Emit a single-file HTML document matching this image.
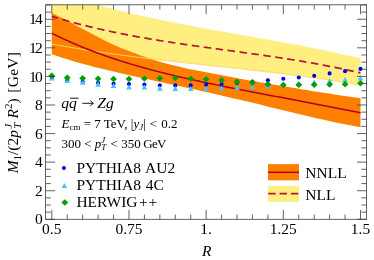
<!DOCTYPE html>
<html><head><meta charset="utf-8"><style>
html,body{margin:0;padding:0;background:#fff;}
svg{display:block;will-change:transform;font-family:"Liberation Serif",serif;}
</style></head><body>
<svg width="374" height="260" viewBox="0 0 374 260">
<defs><clipPath id="c"><rect x="45.6" y="4.8" width="321.0" height="214.5"/></clipPath></defs>
<rect width="374" height="260" fill="#fff"/>
<g clip-path="url(#c)">
<polygon points="51.80,-9.29 57.03,-7.49 62.26,-5.74 67.50,-4.03 72.73,-2.37 77.96,-0.76 83.19,0.81 88.43,2.34 93.66,3.83 98.89,5.28 104.12,6.69 109.35,8.06 114.59,9.40 119.82,10.71 125.05,11.98 130.28,13.23 135.52,14.44 140.75,15.63 145.98,16.79 151.21,17.92 156.44,19.03 161.68,20.12 166.91,21.19 172.14,22.24 177.37,23.27 182.61,24.28 187.84,25.28 193.07,26.26 198.30,27.23 203.53,28.19 208.77,29.14 214.00,30.08 219.23,31.01 224.46,31.94 229.69,32.86 234.93,33.78 240.16,34.70 245.39,35.62 250.62,36.54 255.86,37.46 261.09,38.39 266.32,39.32 271.55,40.26 276.78,41.20 282.02,42.16 287.25,43.13 292.48,44.11 297.71,45.10 302.95,46.11 308.18,47.13 313.41,48.17 318.64,49.24 323.87,50.32 329.11,51.42 334.34,52.55 339.57,53.70 344.80,54.88 350.04,56.09 355.27,57.32 360.50,58.59 360.50,85.10 355.27,84.19 350.04,83.31 344.80,82.45 339.57,81.62 334.34,80.80 329.11,80.00 323.87,79.23 318.64,78.47 313.41,77.73 308.18,77.01 302.95,76.31 297.71,75.62 292.48,74.94 287.25,74.28 282.02,73.63 276.78,72.99 271.55,72.36 266.32,71.74 261.09,71.13 255.86,70.53 250.62,69.94 245.39,69.35 240.16,68.77 234.93,68.19 229.69,67.62 224.46,67.04 219.23,66.48 214.00,65.91 208.77,65.34 203.53,64.77 198.30,64.20 193.07,63.63 187.84,63.05 182.61,62.47 177.37,61.89 172.14,61.30 166.91,60.70 161.68,60.09 156.44,59.48 151.21,58.85 145.98,58.22 140.75,57.57 135.52,56.91 130.28,56.24 125.05,55.56 119.82,54.86 114.59,54.14 109.35,53.41 104.12,52.66 98.89,51.89 93.66,51.11 88.43,50.30 83.19,49.47 77.96,48.62 72.73,47.75 67.50,46.85 62.26,45.93 57.03,44.98 51.80,44.01" fill="#ffee80"/>
<polygon points="51.80,13.10 57.03,15.52 62.26,18.10 67.50,20.81 72.73,23.59 77.96,26.41 83.19,29.24 88.43,32.03 93.66,34.79 98.89,37.51 104.12,40.16 109.35,42.73 114.59,45.15 119.82,47.41 125.05,49.56 130.28,51.62 135.52,53.62 140.75,55.54 145.98,57.36 151.21,59.07 156.44,60.68 161.68,62.21 166.91,63.67 172.14,65.04 177.37,66.33 182.61,67.53 187.84,68.66 193.07,69.73 198.30,70.75 203.53,71.76 208.77,72.76 214.00,73.77 219.23,74.79 224.46,75.83 229.69,76.86 234.93,77.86 240.16,78.83 245.39,79.76 250.62,80.66 255.86,81.54 261.09,82.42 266.32,83.28 271.55,84.15 276.78,85.03 282.02,85.90 287.25,86.77 292.48,87.64 297.71,88.51 302.95,89.39 308.18,90.27 313.41,91.13 318.64,91.98 323.87,92.81 329.11,93.61 334.34,94.40 339.57,95.17 344.80,95.94 350.04,96.71 355.27,97.48 360.50,98.26 360.50,127.32 355.27,126.36 350.04,125.36 344.80,124.32 339.57,123.24 334.34,122.13 329.11,120.99 323.87,119.82 318.64,118.63 313.41,117.42 308.18,116.20 302.95,114.96 297.71,113.71 292.48,112.46 287.25,111.20 282.02,109.93 276.78,108.66 271.55,107.39 266.32,106.13 261.09,104.86 255.86,103.60 250.62,102.35 245.39,101.10 240.16,99.86 234.93,98.63 229.69,97.41 224.46,96.20 219.23,94.99 214.00,93.80 208.77,92.62 203.53,91.44 198.30,90.27 193.07,89.11 187.84,87.96 182.61,86.82 177.37,85.68 172.14,84.54 166.91,83.41 161.68,82.28 156.44,81.14 151.21,80.01 145.98,78.87 140.75,77.72 135.52,76.57 130.28,75.40 125.05,74.22 119.82,73.02 114.59,71.80 109.35,70.56 104.12,69.30 98.89,68.00 93.66,66.67 88.43,65.30 83.19,63.89 77.96,62.43 72.73,60.93 67.50,59.37 62.26,57.75 57.03,56.07 51.80,54.32" fill="#ff8000"/>
<polyline points="51.80,44.01 53.09,44.25 54.37,44.49 55.66,44.73 56.95,44.96 58.23,45.20 59.52,45.43 60.80,45.67 62.09,45.90 63.38,46.13 64.66,46.35 65.95,46.58 67.24,46.80 68.52,47.03 69.81,47.25 71.09,47.47 72.38,47.69 73.67,47.90 74.95,48.12 76.24,48.33 77.53,48.55 78.81,48.76 80.10,48.97 81.38,49.18 82.67,49.39 83.96,49.59 85.24,49.80 86.53,50.00 87.81,50.20 89.10,50.40 90.39,50.60 91.67,50.80 92.96,51.00 94.25,51.19 95.53,51.39 96.82,51.58 98.11,51.78 99.39,51.97 100.68,52.16 101.96,52.35 103.25,52.53 104.54,52.72 105.82,52.91 107.11,53.09 108.40,53.27 109.68,53.46 110.97,53.64 112.25,53.82 113.54,54.00 114.83,54.18 116.11,54.35 117.40,54.53 118.69,54.70 119.97,54.88 121.26,55.05 122.54,55.23 123.83,55.40 125.12,55.57 126.40,55.74 127.69,55.91 128.97,56.07 130.26,56.24 131.55,56.41 132.83,56.57 134.12,56.74 135.41,56.90 136.69,57.06 137.98,57.23 139.26,57.39 140.55,57.55 141.84,57.71 143.12,57.87 144.41,58.03 145.70,58.18 146.98,58.34 148.27,58.50 149.56,58.65 150.84,58.81 152.13,58.96 153.41,59.12 154.70,59.27 155.99,59.42 157.27,59.58 158.56,59.73 159.84,59.88 161.13,60.03 162.42,60.18 163.70,60.33 164.99,60.48 166.28,60.63 167.56,60.77 168.85,60.92 170.13,61.07 171.42,61.21 172.71,61.36 173.99,61.51 175.28,61.65 176.57,61.80 177.85,61.94 179.14,62.09 180.43,62.23 181.71,62.37 183.00,62.52 184.28,62.66 185.57,62.80 186.86,62.94 188.14,63.09 189.43,63.23 190.71,63.37 192.00,63.51 193.29,63.65 194.57,63.79 195.86,63.93 197.15,64.08 198.43,64.22 199.72,64.36 201.00,64.50 202.29,64.64 203.58,64.78 204.86,64.92 206.15,65.06 207.44,65.20 208.72,65.34 210.01,65.47 211.29,65.61 212.58,65.75 213.87,65.89 215.15,66.03 216.44,66.17 217.73,66.31 219.01,66.45 220.30,66.59 221.58,66.73 222.87,66.87 224.16,67.01 225.44,67.15 226.73,67.29 228.02,67.43 229.30,67.57 230.59,67.71 231.88,67.85 233.16,68.00 234.45,68.14 235.73,68.28 237.02,68.42 238.31,68.56 239.59,68.70 240.88,68.85 242.17,68.99 243.45,69.13 244.74,69.28 246.02,69.42 247.31,69.56 248.60,69.71 249.88,69.85 251.17,70.00 252.45,70.14 253.74,70.29 255.03,70.44 256.31,70.58 257.60,70.73 258.89,70.88 260.17,71.03 261.46,71.17 262.75,71.32 264.03,71.47 265.32,71.62 266.60,71.77 267.89,71.92 269.18,72.08 270.46,72.23 271.75,72.38 273.04,72.54 274.32,72.69 275.61,72.84 276.89,73.00 278.18,73.16 279.47,73.31 280.75,73.47 282.04,73.63 283.32,73.79 284.61,73.95 285.90,74.11 287.18,74.27 288.47,74.43 289.76,74.59 291.04,74.76 292.33,74.92 293.61,75.08 294.90,75.25 296.19,75.42 297.47,75.58 298.76,75.75 300.05,75.92 301.33,76.09 302.62,76.26 303.90,76.43 305.19,76.61 306.48,76.78 307.76,76.96 309.05,77.13 310.34,77.31 311.62,77.49 312.91,77.66 314.20,77.84 315.48,78.02 316.77,78.21 318.05,78.39 319.34,78.57 320.63,78.76 321.91,78.94 323.20,79.13 324.49,79.32 325.77,79.51 327.06,79.70 328.34,79.89 329.63,80.08 330.92,80.28 332.20,80.47 333.49,80.67 334.77,80.87 336.06,81.07 337.35,81.27 338.63,81.47 339.92,81.67 341.21,81.87 342.49,82.08 343.78,82.29 345.06,82.49 346.35,82.70 347.64,82.91 348.92,83.13 350.21,83.34 351.50,83.55 352.78,83.77 354.07,83.99 355.36,84.21 356.64,84.43 357.93,84.65 359.21,84.87 360.50,85.10" fill="none" stroke="#ffd860" stroke-width="1"/>
<polyline points="51.80,33.24 53.09,33.89 54.37,34.53 55.66,35.16 56.95,35.78 58.23,36.41 59.52,37.02 60.80,37.63 62.09,38.24 63.38,38.84 64.66,39.43 65.95,40.02 67.24,40.60 68.52,41.18 69.81,41.75 71.09,42.32 72.38,42.89 73.67,43.45 74.95,44.00 76.24,44.55 77.53,45.09 78.81,45.63 80.10,46.17 81.38,46.70 82.67,47.22 83.96,47.74 85.24,48.26 86.53,48.77 87.81,49.28 89.10,49.78 90.39,50.28 91.67,50.78 92.96,51.27 94.25,51.76 95.53,52.24 96.82,52.72 98.11,53.19 99.39,53.66 100.68,54.13 101.96,54.59 103.25,55.05 104.54,55.50 105.82,55.96 107.11,56.40 108.40,56.85 109.68,57.29 110.97,57.72 112.25,58.16 113.54,58.59 114.83,59.01 116.11,59.43 117.40,59.85 118.69,60.27 119.97,60.68 121.26,61.09 122.54,61.50 123.83,61.90 125.12,62.30 126.40,62.70 127.69,63.09 128.97,63.48 130.26,63.87 131.55,64.25 132.83,64.63 134.12,65.01 135.41,65.39 136.69,65.76 137.98,66.13 139.26,66.50 140.55,66.87 141.84,67.23 143.12,67.59 144.41,67.94 145.70,68.30 146.98,68.65 148.27,69.00 149.56,69.35 150.84,69.69 152.13,70.04 153.41,70.38 154.70,70.71 155.99,71.05 157.27,71.38 158.56,71.71 159.84,72.04 161.13,72.37 162.42,72.69 163.70,73.02 164.99,73.34 166.28,73.66 167.56,73.97 168.85,74.29 170.13,74.60 171.42,74.91 172.71,75.22 173.99,75.53 175.28,75.84 176.57,76.14 177.85,76.44 179.14,76.74 180.43,77.04 181.71,77.34 183.00,77.63 184.28,77.93 185.57,78.22 186.86,78.51 188.14,78.80 189.43,79.09 190.71,79.38 192.00,79.66 193.29,79.95 194.57,80.23 195.86,80.51 197.15,80.79 198.43,81.07 199.72,81.35 201.00,81.62 202.29,81.90 203.58,82.17 204.86,82.45 206.15,82.72 207.44,82.99 208.72,83.26 210.01,83.53 211.29,83.79 212.58,84.06 213.87,84.33 215.15,84.59 216.44,84.86 217.73,85.12 219.01,85.38 220.30,85.64 221.58,85.90 222.87,86.16 224.16,86.42 225.44,86.68 226.73,86.94 228.02,87.19 229.30,87.45 230.59,87.71 231.88,87.96 233.16,88.21 234.45,88.47 235.73,88.72 237.02,88.97 238.31,89.23 239.59,89.48 240.88,89.73 242.17,89.98 243.45,90.23 244.74,90.48 246.02,90.73 247.31,90.98 248.60,91.22 249.88,91.47 251.17,91.72 252.45,91.97 253.74,92.21 255.03,92.46 256.31,92.71 257.60,92.95 258.89,93.20 260.17,93.44 261.46,93.69 262.75,93.93 264.03,94.18 265.32,94.42 266.60,94.67 267.89,94.91 269.18,95.16 270.46,95.40 271.75,95.65 273.04,95.89 274.32,96.13 275.61,96.38 276.89,96.62 278.18,96.86 279.47,97.11 280.75,97.35 282.04,97.60 283.32,97.84 284.61,98.08 285.90,98.33 287.18,98.57 288.47,98.81 289.76,99.06 291.04,99.30 292.33,99.55 293.61,99.79 294.90,100.03 296.19,100.28 297.47,100.52 298.76,100.77 300.05,101.01 301.33,101.26 302.62,101.50 303.90,101.75 305.19,101.99 306.48,102.24 307.76,102.48 309.05,102.73 310.34,102.97 311.62,103.22 312.91,103.47 314.20,103.71 315.48,103.96 316.77,104.21 318.05,104.45 319.34,104.70 320.63,104.95 321.91,105.20 323.20,105.44 324.49,105.69 325.77,105.94 327.06,106.19 328.34,106.44 329.63,106.69 330.92,106.94 332.20,107.19 333.49,107.44 334.77,107.69 336.06,107.94 337.35,108.19 338.63,108.44 339.92,108.69 341.21,108.94 342.49,109.20 343.78,109.45 345.06,109.70 346.35,109.95 347.64,110.21 348.92,110.46 350.21,110.72 351.50,110.97 352.78,111.22 354.07,111.48 355.36,111.73 356.64,111.99 357.93,112.24 359.21,112.50 360.50,112.76" fill="none" stroke="#b00020" stroke-width="1.5"/>
<polyline points="51.80,16.36 53.09,16.76 54.37,17.15 55.66,17.54 56.95,17.92 58.23,18.30 59.52,18.68 60.80,19.06 62.09,19.43 63.38,19.80 64.66,20.17 65.95,20.53 67.24,20.89 68.52,21.25 69.81,21.60 71.09,21.95 72.38,22.30 73.67,22.65 74.95,22.99 76.24,23.33 77.53,23.67 78.81,24.00 80.10,24.33 81.38,24.66 82.67,24.99 83.96,25.31 85.24,25.64 86.53,25.95 87.81,26.27 89.10,26.58 90.39,26.89 91.67,27.20 92.96,27.51 94.25,27.81 95.53,28.11 96.82,28.41 98.11,28.71 99.39,29.00 100.68,29.29 101.96,29.58 103.25,29.87 104.54,30.15 105.82,30.43 107.11,30.71 108.40,30.99 109.68,31.27 110.97,31.54 112.25,31.81 113.54,32.08 114.83,32.35 116.11,32.61 117.40,32.88 118.69,33.14 119.97,33.40 121.26,33.65 122.54,33.91 123.83,34.16 125.12,34.41 126.40,34.66 127.69,34.91 128.97,35.15 130.26,35.40 131.55,35.64 132.83,35.88 134.12,36.12 135.41,36.35 136.69,36.59 137.98,36.82 139.26,37.05 140.55,37.28 141.84,37.51 143.12,37.74 144.41,37.96 145.70,38.19 146.98,38.41 148.27,38.63 149.56,38.85 150.84,39.07 152.13,39.29 153.41,39.50 154.70,39.71 155.99,39.93 157.27,40.14 158.56,40.35 159.84,40.56 161.13,40.76 162.42,40.97 163.70,41.17 164.99,41.38 166.28,41.58 167.56,41.78 168.85,41.98 170.13,42.18 171.42,42.38 172.71,42.58 173.99,42.77 175.28,42.97 176.57,43.16 177.85,43.36 179.14,43.55 180.43,43.74 181.71,43.93 183.00,44.12 184.28,44.31 185.57,44.50 186.86,44.69 188.14,44.87 189.43,45.06 190.71,45.24 192.00,45.43 193.29,45.61 194.57,45.80 195.86,45.98 197.15,46.16 198.43,46.34 199.72,46.52 201.00,46.71 202.29,46.89 203.58,47.07 204.86,47.24 206.15,47.42 207.44,47.60 208.72,47.78 210.01,47.96 211.29,48.14 212.58,48.31 213.87,48.49 215.15,48.67 216.44,48.84 217.73,49.02 219.01,49.20 220.30,49.37 221.58,49.55 222.87,49.72 224.16,49.90 225.44,50.07 226.73,50.25 228.02,50.43 229.30,50.60 230.59,50.78 231.88,50.95 233.16,51.13 234.45,51.30 235.73,51.48 237.02,51.66 238.31,51.83 239.59,52.01 240.88,52.19 242.17,52.36 243.45,52.54 244.74,52.72 246.02,52.90 247.31,53.08 248.60,53.26 249.88,53.43 251.17,53.61 252.45,53.79 253.74,53.97 255.03,54.16 256.31,54.34 257.60,54.52 258.89,54.70 260.17,54.89 261.46,55.07 262.75,55.25 264.03,55.44 265.32,55.63 266.60,55.81 267.89,56.00 269.18,56.19 270.46,56.38 271.75,56.57 273.04,56.76 274.32,56.95 275.61,57.14 276.89,57.33 278.18,57.53 279.47,57.72 280.75,57.92 282.04,58.12 283.32,58.31 284.61,58.51 285.90,58.71 287.18,58.91 288.47,59.12 289.76,59.32 291.04,59.52 292.33,59.73 293.61,59.94 294.90,60.15 296.19,60.36 297.47,60.57 298.76,60.78 300.05,60.99 301.33,61.21 302.62,61.42 303.90,61.64 305.19,61.86 306.48,62.08 307.76,62.30 309.05,62.53 310.34,62.75 311.62,62.98 312.91,63.21 314.20,63.44 315.48,63.67 316.77,63.90 318.05,64.13 319.34,64.37 320.63,64.61 321.91,64.85 323.20,65.09 324.49,65.33 325.77,65.58 327.06,65.82 328.34,66.07 329.63,66.32 330.92,66.58 332.20,66.83 333.49,67.09 334.77,67.35 336.06,67.61 337.35,67.87 338.63,68.13 339.92,68.40 341.21,68.67 342.49,68.94 343.78,69.21 345.06,69.49 346.35,69.76 347.64,70.04 348.92,70.33 350.21,70.61 351.50,70.90 352.78,71.18 354.07,71.48 355.36,71.77 356.64,72.06 357.93,72.36 359.21,72.66 360.50,72.97" fill="none" stroke="#b81434" stroke-width="1.7" stroke-dasharray="7.5,4.53" stroke-dashoffset="1.2"/>
<circle cx="51.80" cy="77.70" r="2.05" fill="#0000ee"/><circle cx="67.24" cy="80.20" r="2.05" fill="#0000ee"/><circle cx="82.67" cy="81.70" r="2.05" fill="#0000ee"/><circle cx="98.11" cy="82.90" r="2.05" fill="#0000ee"/><circle cx="113.54" cy="83.85" r="2.05" fill="#0000ee"/><circle cx="128.97" cy="84.10" r="2.05" fill="#0000ee"/><circle cx="144.41" cy="84.60" r="2.05" fill="#0000ee"/><circle cx="159.84" cy="85.20" r="2.05" fill="#0000ee"/><circle cx="175.28" cy="85.40" r="2.05" fill="#0000ee"/><circle cx="190.71" cy="85.40" r="2.05" fill="#0000ee"/><circle cx="206.15" cy="84.60" r="2.05" fill="#0000ee"/><circle cx="221.58" cy="84.10" r="2.05" fill="#0000ee"/><circle cx="237.02" cy="83.00" r="2.05" fill="#0000ee"/><circle cx="252.45" cy="81.60" r="2.05" fill="#0000ee"/><circle cx="267.89" cy="80.30" r="2.05" fill="#0000ee"/><circle cx="283.32" cy="78.70" r="2.05" fill="#0000ee"/><circle cx="298.76" cy="77.50" r="2.05" fill="#0000ee"/><circle cx="314.20" cy="75.85" r="2.05" fill="#0000ee"/><circle cx="329.63" cy="73.40" r="2.05" fill="#0000ee"/><circle cx="345.06" cy="71.15" r="2.05" fill="#0000ee"/><circle cx="360.50" cy="68.90" r="2.05" fill="#0000ee"/><polygon points="51.80,75.40 54.60,80.60 49.00,80.60" fill="#44c4ff"/><polygon points="67.24,77.80 70.04,83.00 64.44,83.00" fill="#44c4ff"/><polygon points="82.67,79.45 85.47,84.65 79.87,84.65" fill="#44c4ff"/><polygon points="98.11,81.50 100.91,86.70 95.31,86.70" fill="#44c4ff"/><polygon points="113.54,82.90 116.34,88.10 110.74,88.10" fill="#44c4ff"/><polygon points="128.97,84.30 131.78,89.50 126.17,89.50" fill="#44c4ff"/><polygon points="144.41,84.40 147.21,89.60 141.61,89.60" fill="#44c4ff"/><polygon points="159.84,85.50 162.64,90.70 157.04,90.70" fill="#44c4ff"/><polygon points="175.28,85.90 178.08,91.10 172.48,91.10" fill="#44c4ff"/><polygon points="190.71,85.90 193.51,91.10 187.91,91.10" fill="#44c4ff"/><polygon points="206.15,85.90 208.95,91.10 203.35,91.10" fill="#44c4ff"/><polygon points="221.58,85.40 224.38,90.60 218.78,90.60" fill="#44c4ff"/><polygon points="237.02,84.70 239.82,89.90 234.22,89.90" fill="#44c4ff"/><polygon points="252.45,83.90 255.25,89.10 249.65,89.10" fill="#44c4ff"/><polygon points="267.89,83.10 270.69,88.30 265.09,88.30" fill="#44c4ff"/><polygon points="283.32,82.00 286.12,87.20 280.52,87.20" fill="#44c4ff"/><polygon points="298.76,81.00 301.56,86.20 295.96,86.20" fill="#44c4ff"/><polygon points="314.20,79.40 317.00,84.60 311.40,84.60" fill="#44c4ff"/><polygon points="329.63,78.30 332.43,83.50 326.83,83.50" fill="#44c4ff"/><polygon points="345.06,77.00 347.87,82.20 342.26,82.20" fill="#44c4ff"/><polygon points="360.50,75.20 363.30,80.40 357.70,80.40" fill="#44c4ff"/><polygon points="51.80,72.55 55.20,75.75 51.80,78.95 48.40,75.75" fill="#00a000"/><polygon points="67.24,74.50 70.64,77.70 67.24,80.90 63.84,77.70" fill="#00a000"/><polygon points="82.67,75.00 86.07,78.20 82.67,81.40 79.27,78.20" fill="#00a000"/><polygon points="98.11,75.60 101.51,78.80 98.11,82.00 94.70,78.80" fill="#00a000"/><polygon points="113.54,75.80 116.94,79.00 113.54,82.20 110.14,79.00" fill="#00a000"/><polygon points="128.97,75.70 132.38,78.90 128.97,82.10 125.57,78.90" fill="#00a000"/><polygon points="144.41,75.40 147.81,78.60 144.41,81.80 141.01,78.60" fill="#00a000"/><polygon points="159.84,75.00 163.24,78.20 159.84,81.40 156.44,78.20" fill="#00a000"/><polygon points="175.28,74.90 178.68,78.10 175.28,81.30 171.88,78.10" fill="#00a000"/><polygon points="190.71,75.40 194.11,78.60 190.71,81.80 187.31,78.60" fill="#00a000"/><polygon points="206.15,76.10 209.55,79.30 206.15,82.50 202.75,79.30" fill="#00a000"/><polygon points="221.58,77.00 224.98,80.20 221.58,83.40 218.18,80.20" fill="#00a000"/><polygon points="237.02,78.60 240.42,81.80 237.02,85.00 233.62,81.80" fill="#00a000"/><polygon points="252.45,79.45 255.85,82.65 252.45,85.85 249.05,82.65" fill="#00a000"/><polygon points="267.89,81.10 271.29,84.30 267.89,87.50 264.49,84.30" fill="#00a000"/><polygon points="283.32,81.80 286.72,85.00 283.32,88.20 279.93,85.00" fill="#00a000"/><polygon points="298.76,81.60 302.16,84.80 298.76,88.00 295.36,84.80" fill="#00a000"/><polygon points="314.20,81.55 317.60,84.75 314.20,87.95 310.80,84.75" fill="#00a000"/><polygon points="329.63,81.30 333.03,84.50 329.63,87.70 326.23,84.50" fill="#00a000"/><polygon points="345.06,81.10 348.46,84.30 345.06,87.50 341.67,84.30" fill="#00a000"/><polygon points="360.50,80.10 363.90,83.30 360.50,86.50 357.10,83.30" fill="#00a000"/>
</g>
<g stroke="#3c3c3c" stroke-width="0.8" fill="none">
<rect x="45.6" y="4.8" width="321.0" height="214.5"/>
<path d="M45.6,219.30h9.6M366.6,219.30h-9.6"/><path d="M45.6,212.16h5.2M366.6,212.16h-5.2"/><path d="M45.6,205.01h5.2M366.6,205.01h-5.2"/><path d="M45.6,197.87h5.2M366.6,197.87h-5.2"/><path d="M45.6,190.72h9.6M366.6,190.72h-9.6"/><path d="M45.6,183.58h5.2M366.6,183.58h-5.2"/><path d="M45.6,176.43h5.2M366.6,176.43h-5.2"/><path d="M45.6,169.29h5.2M366.6,169.29h-5.2"/><path d="M45.6,162.14h9.6M366.6,162.14h-9.6"/><path d="M45.6,155.00h5.2M366.6,155.00h-5.2"/><path d="M45.6,147.85h5.2M366.6,147.85h-5.2"/><path d="M45.6,140.71h5.2M366.6,140.71h-5.2"/><path d="M45.6,133.56h9.6M366.6,133.56h-9.6"/><path d="M45.6,126.42h5.2M366.6,126.42h-5.2"/><path d="M45.6,119.27h5.2M366.6,119.27h-5.2"/><path d="M45.6,112.13h5.2M366.6,112.13h-5.2"/><path d="M45.6,104.98h9.6M366.6,104.98h-9.6"/><path d="M45.6,97.84h5.2M366.6,97.84h-5.2"/><path d="M45.6,90.69h5.2M366.6,90.69h-5.2"/><path d="M45.6,83.55h5.2M366.6,83.55h-5.2"/><path d="M45.6,76.40h9.6M366.6,76.40h-9.6"/><path d="M45.6,69.26h5.2M366.6,69.26h-5.2"/><path d="M45.6,62.11h5.2M366.6,62.11h-5.2"/><path d="M45.6,54.97h5.2M366.6,54.97h-5.2"/><path d="M45.6,47.82h9.6M366.6,47.82h-9.6"/><path d="M45.6,40.68h5.2M366.6,40.68h-5.2"/><path d="M45.6,33.53h5.2M366.6,33.53h-5.2"/><path d="M45.6,26.39h5.2M366.6,26.39h-5.2"/><path d="M45.6,19.24h9.6M366.6,19.24h-9.6"/><path d="M45.6,12.10h5.2M366.6,12.10h-5.2"/><path d="M45.6,4.95h5.2M366.6,4.95h-5.2"/><path d="M51.80,219.3v-9.4M51.80,4.8v9.4"/><path d="M67.24,219.3v-4.8M67.24,4.8v4.8"/><path d="M82.67,219.3v-4.8M82.67,4.8v4.8"/><path d="M98.11,219.3v-4.8M98.11,4.8v4.8"/><path d="M113.54,219.3v-4.8M113.54,4.8v4.8"/><path d="M128.97,219.3v-9.4M128.97,4.8v9.4"/><path d="M144.41,219.3v-4.8M144.41,4.8v4.8"/><path d="M159.85,219.3v-4.8M159.85,4.8v4.8"/><path d="M175.28,219.3v-4.8M175.28,4.8v4.8"/><path d="M190.71,219.3v-4.8M190.71,4.8v4.8"/><path d="M206.15,219.3v-9.4M206.15,4.8v9.4"/><path d="M221.58,219.3v-4.8M221.58,4.8v4.8"/><path d="M237.02,219.3v-4.8M237.02,4.8v4.8"/><path d="M252.45,219.3v-4.8M252.45,4.8v4.8"/><path d="M267.89,219.3v-4.8M267.89,4.8v4.8"/><path d="M283.32,219.3v-9.4M283.32,4.8v9.4"/><path d="M298.76,219.3v-4.8M298.76,4.8v4.8"/><path d="M314.20,219.3v-4.8M314.20,4.8v4.8"/><path d="M329.63,219.3v-4.8M329.63,4.8v4.8"/><path d="M345.07,219.3v-4.8M345.07,4.8v4.8"/><path d="M360.50,219.3v-9.4M360.50,4.8v9.4"/>
</g>
<g font-size="15.5" fill="#000"><text x="42.8" y="224.4" text-anchor="end">0</text><text x="42.8" y="195.8" text-anchor="end">2</text><text x="42.8" y="167.2" text-anchor="end">4</text><text x="42.8" y="138.7" text-anchor="end">6</text><text x="42.8" y="110.1" text-anchor="end">8</text><text x="42.8" y="81.5" text-anchor="end">1<tspan dx="-1.6">0</tspan></text><text x="42.8" y="52.9" text-anchor="end">1<tspan dx="-1.6">2</tspan></text><text x="42.8" y="24.3" text-anchor="end">1<tspan dx="-1.6">4</tspan></text><text x="51.8" y="234" text-anchor="middle">0.5</text><text x="129.0" y="234" text-anchor="middle">0.75</text><text x="206.1" y="234" text-anchor="middle">1.</text><text x="283.3" y="234" text-anchor="middle">1.25</text><text x="360.5" y="234" text-anchor="middle">1.5</text></g>
<text x="202" y="255.7" font-size="15.5" font-style="italic">R</text>
<text transform="translate(17.8,173.2) rotate(-90)" font-size="15.5"><tspan font-style="italic">M</tspan><tspan font-size="10.5" dy="3">1</tspan><tspan dy="-3">/(2</tspan><tspan font-style="italic">p</tspan><tspan font-size="11" font-style="italic" dy="-6" dx="1.3">J</tspan><tspan font-size="11" font-style="italic" dy="9.5" dx="-5">T</tspan><tspan font-style="italic" dy="-3.5" dx="4.2">R</tspan><tspan font-size="11" dy="-6">2</tspan><tspan dy="6">)</tspan><tspan dx="5.6" letter-spacing="0.3">[GeV]</tspan></text>
<text x="61.2" y="107.7" font-size="15.6" font-style="italic">qq</text>
<path d="M69.9,98.2h8.7" stroke="#000" stroke-width="0.9"/>
<path d="M82.3,103.3h10.8M90.2,100.7l3.2,2.6l-3.2,2.6" stroke="#000" stroke-width="0.9" fill="none"/>
<text x="97.3" y="107.7" font-size="15.6" font-style="italic">Zg</text>
<text x="61.5" y="127.8" font-size="13"><tspan font-style="italic">E</tspan><tspan font-size="9" dy="2.5">cm</tspan><tspan dy="-2.5"> = 7 TeV, |</tspan><tspan font-style="italic">y</tspan><tspan font-size="9" font-style="italic" dy="2.5">J</tspan><tspan dy="-2.5">|</tspan><tspan dx="0.8"> &lt;</tspan><tspan dx="0.8"> 0.2</tspan></text>
<text x="61.5" y="147.6" font-size="13">300 &lt; <tspan font-style="italic">p</tspan><tspan font-size="9" font-style="italic" dy="-5">J</tspan><tspan font-size="9" font-style="italic" dy="7.5" dx="-4">T</tspan><tspan dy="-2.5" dx="1"> &lt; 350</tspan><tspan dx="0.2" letter-spacing="-0.8"> GeV</tspan></text>
<circle cx="63.90" cy="167.90" r="2.0" fill="#0000ee"/><polygon points="64.40,182.90 67.20,188.10 61.60,188.10" fill="#44c4ff"/><polygon points="64.80,199.30 68.20,202.50 64.80,205.70 61.40,202.50" fill="#00a000"/>
<g font-size="15.5">
<text x="76.4" y="172.9" word-spacing="1.0">PYTHIA8 AU2</text>
<text x="76.4" y="189.6" word-spacing="1.0">PYTHIA8 4C</text>
<text x="76.4" y="206.6">HERWIG<tspan letter-spacing="0.8" dx="1.5">++</tspan></text>
<text x="305.3" y="177.8">NNLL</text>
<text x="305.3" y="199.5">NLL</text>
</g>
<rect x="268" y="164.1" width="31" height="16.2" fill="#ff8000"/>
<path d="M268,172.3h31" stroke="#b00020" stroke-width="1.5"/>
<rect x="268" y="185.8" width="31" height="16.1" fill="#ffee80"/>
<path d="M268.3,193.6h31" stroke="#b81434" stroke-width="1.7" stroke-dasharray="7.4,3.9"/>
</svg>
</body></html>
